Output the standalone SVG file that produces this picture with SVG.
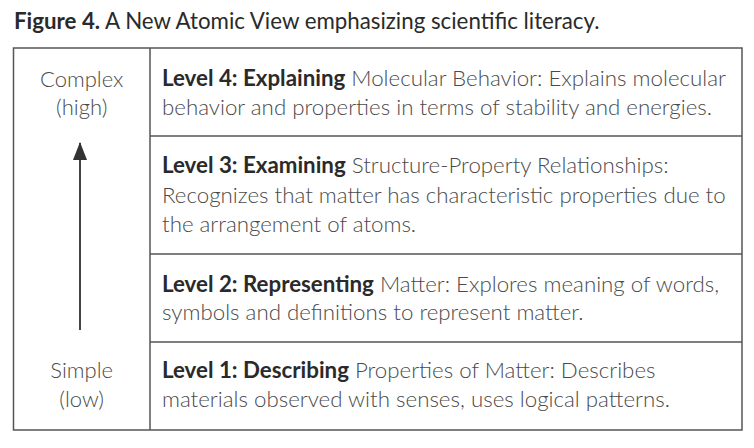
<svg xmlns="http://www.w3.org/2000/svg" width="754" height="448" viewBox="0 0 754 448">
<style>
.t{font-family:"Lato","Open Sans","Liberation Sans",sans-serif;font-size:22.3px;fill:#4a4a4a;font-weight:300}
.b{font-weight:700;fill:#2a2a2a}
.side{font-family:"Lato","Open Sans","Liberation Sans",sans-serif;font-size:22px;fill:#4a4a4a;font-weight:300;text-anchor:middle}
.ttl{font-family:"Lato","Open Sans","Liberation Sans",sans-serif;font-size:22.3px;fill:#2a2a2a}
.ln{stroke:#555;stroke-width:1.5;fill:none}
</style>
<defs>
<marker id="ah" viewBox="0 0 18 14" refX="17" refY="7" markerWidth="18" markerHeight="14" markerUnits="userSpaceOnUse" orient="auto">
<path d="M0,0 L18,7 L0,14 Z" fill="#333"/>
</marker>
</defs>
<text class="ttl" x="14" y="29"><tspan font-weight="700">Figure 4.</tspan> A New Atomic View emphasizing scientific literacy.</text>
<g id="table">
<rect class="ln" x="13.5" y="48" width="728.5" height="382" stroke-width="2" stroke="#666"/>
<line class="ln" x1="150" y1="48" x2="150" y2="430"/>
<line class="ln" x1="150" y1="136" x2="742" y2="136"/>
<line class="ln" x1="150" y1="254" x2="742" y2="254"/>
<line class="ln" x1="150" y1="342" x2="742" y2="342"/>
</g>
<g id="complex"><text class="side" x="81.7" y="87">Complex</text><text class="side" x="81.7" y="115">(high)</text></g>
<g id="simple"><text class="side" x="81.7" y="378">Simple</text><text class="side" x="81.7" y="407">(low)</text></g>
<g id="connectors">
<line x1="80" y1="330" x2="80" y2="143" stroke="#444" stroke-width="2" marker-end="url(#ah)"/>
</g>
<g id="level4"><text class="t" x="162" y="86"><tspan class="b">Level 4: Explaining</tspan> Molecular Behavior: Explains molecular</text><text class="t" x="162" y="115">behavior and properties in terms of stability and energies.</text></g>
<g id="level3"><text class="t" x="162" y="173"><tspan class="b">Level 3: Examining</tspan> Structure-Property Relationships:</text><text class="t" x="162" y="203">Recognizes that matter has characteristic properties due to</text><text class="t" x="162" y="232">the arrangement of atoms.</text></g>
<g id="level2"><text class="t" x="162" y="292"><tspan class="b">Level 2: Representing</tspan> Matter: Explores meaning of words,</text><text class="t" x="162" y="320">symbols and definitions to represent matter.</text></g>
<g id="level1"><text class="t" x="162" y="378"><tspan class="b">Level 1: Describing</tspan> Properties of Matter: Describes</text><text class="t" x="162" y="407">materials observed with senses, uses logical patterns.</text></g>
</svg>
